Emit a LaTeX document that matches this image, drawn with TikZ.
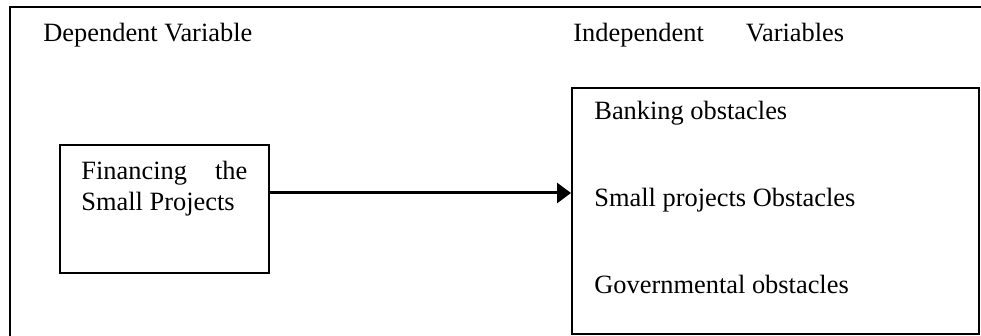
\documentclass[tikz,border=0pt]{standalone}
\usepackage{fontspec}
\setmainfont{Liberation Serif}
\usetikzlibrary{arrows.meta,positioning}

\begin{document}
\begin{tikzpicture}[x=0.5pt,y=-0.5pt,
    txt/.style={inner sep=0pt, anchor=base west, font=\fontsize{13.2}{15.5}\selectfont},
    varbox/.style={draw, line width=1.1pt, anchor=north west, inner sep=0pt}]
    \useasboundingbox (0,0) rectangle (981,336);
    % outer frame, cut off by the page at right and bottom
    \draw[line width=1.3pt] (10,345) |- (990,7);

    % headings
    \node[txt] (dep) at (43,42) {Dependent Variable};
    \node[txt] (indep) at (573,42) {Independent\hspace{21pt}Variables};

    % dependent variable box
    \node[varbox, minimum width=104.5pt, minimum height=64pt] (fin) at (59,144) {};
    \node[txt, text width=83pt, align=justify] (fintext) at (81,180) {Financing the Small Projects};

    % independent variables box
    \node[varbox, minimum width=203.5pt, minimum height=123pt] (obst) at (571,87) {};
    \node[txt] (bank) at (594,120) {Banking obstacles};
    \node[txt] (small) at (594,207) {Small projects Obstacles};
    \node[txt] (gov) at (594,294) {Governmental obstacles};

    % arrow between the boxes
    \coordinate (arr) at (0,193);
    \draw[line width=1.5pt, -{Triangle[length=7pt,width=10pt]}] (fin.east |- arr) -- (obst.west |- arr);
\end{tikzpicture}
\end{document}
